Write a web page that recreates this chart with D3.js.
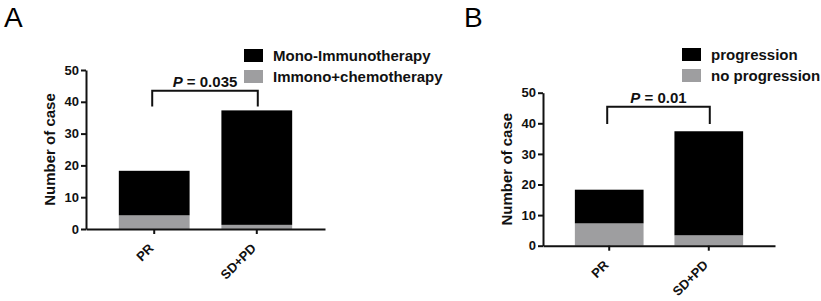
<!DOCTYPE html>
<html>
<head>
<meta charset="utf-8">
<script src="https://cdn.jsdelivr.net/npm/d3@7"></script>
<style>
  body { margin: 0; background: #fff; }
  svg { display: block; font-family: Arial, "Liberation Sans", sans-serif; }
</style>
</head>
<body>
<svg id="chart" width="821" height="301"></svg>
<script>
const categories = ["PR", "SD+PD"];
const yTicks = [0, 10, 20, 30, 40, 50];

// panel A
const treatSeries = ["Immono+chemotherapy", "Mono-Immunotherapy"];
const treatGray = [4.3, 1.3];
const treatBlack = [14.0, 36.0];

// panel B
const progSeries = ["no progression", "progression"];
const progGray = [7.3, 3.4];
const progBlack = [11.0, 34.0];

const BLACK = "#000";
const GRAY = "#9e9ea0";

const svg = d3.select("#chart");

function drawPanel(cfg) {
    const rows = categories.map((c, i) => ({ cat: c, low: cfg.gray[i], high: cfg.black[i] }));
    const stack = d3.stack().keys(["low", "high"])(rows);

    const x = d3.scaleBand()
        .domain(categories)
        .range([cfg.left, cfg.right])
        .paddingInner(0.31)
        .paddingOuter(0.32);

    const y = d3.scaleLinear()
        .domain([0, 50])
        .range([cfg.bottom, cfg.top]);

    const g = svg.append("g");

    g.append("text")
        .attr("x", cfg.labelX)
        .attr("y", 27)
        .style("font-size", "28px")
        .text(cfg.label);

    g.selectAll(".layer")
        .data(stack)
        .enter().append("g")
        .attr("fill", (d, i) => i === 0 ? GRAY : BLACK)
      .selectAll("rect")
        .data(d => d)
        .enter().append("rect")
        .attr("x", d => x(d.data.cat))
        .attr("y", d => y(d[1]))
        .attr("width", x.bandwidth())
        .attr("height", d => y(d[0]) - y(d[1]));

    const yAxis = g.append("g")
        .attr("transform", `translate(${cfg.left},0)`)
        .call(d3.axisLeft(y).tickValues(yTicks).tickSize(5).tickSizeOuter(0).tickPadding(2));

    const xAxis = g.append("g")
        .attr("transform", `translate(0,${cfg.bottom})`)
        .call(d3.axisBottom(x).tickSize(5).tickSizeOuter(0));

    [yAxis, xAxis].forEach(a => {
        a.select(".domain").attr("stroke", "#111").attr("stroke-width", 2);
        a.selectAll(".tick line").attr("stroke", "#111").attr("stroke-width", 2);
    });

    yAxis.selectAll("text")
        .style("font-size", "13px")
        .style("font-weight", "bold")
        .attr("fill", "#111");

    xAxis.selectAll("text")
        .style("font-size", "13px")
        .style("font-weight", "bold")
        .attr("fill", "#111")
        .style("text-anchor", "end")
        .attr("y", 0)
        .attr("dy", "0.35em")
        .attr("transform", "translate(-3,17) rotate(-45)");

    g.append("text")
        .attr("transform", `translate(${cfg.left - 31},${(cfg.top + cfg.bottom) / 2}) rotate(-90)`)
        .attr("text-anchor", "middle")
        .style("font-size", "15px")
        .style("font-weight", "bold")
        .attr("fill", "#111")
        .text("Number of case");

    // significance bracket
    const x1 = x(categories[0]) + x.bandwidth() / 2 - 2;
    const x2 = x(categories[1]) + x.bandwidth() / 2 + 1;
    const yTop = y(cfg.bracketTop);
    const yLeg = y(cfg.bracketLeg);
    g.append("path")
        .attr("d", `M${x1},${yLeg}V${yTop}H${x2}V${yLeg}`)
        .attr("fill", "none")
        .attr("stroke", "#111")
        .attr("stroke-width", 2);

    const pt = g.append("text")
        .attr("x", (x1 + x2) / 2)
        .attr("y", yTop - 4)
        .attr("text-anchor", "middle")
        .style("font-size", "15px")
        .style("font-weight", "bold")
        .attr("fill", "#111");
    pt.append("tspan").style("font-style", "italic").text("P");
    pt.append("tspan").text(" = " + cfg.pValue);

    // legend (black series listed first)
    const legend = g.selectAll(".legend")
        .data([cfg.series[1], cfg.series[0]])
        .enter().append("g")
        .attr("transform", (d, i) => `translate(${cfg.legendX},${cfg.legendY + i * 21})`);
    legend.append("rect")
        .attr("width", 19)
        .attr("height", 13)
        .attr("fill", (d, i) => i === 0 ? BLACK : GRAY);
    legend.append("text")
        .attr("x", 29)
        .attr("y", 12)
        .style("font-size", "15px")
        .style("font-weight", "bold")
        .attr("fill", "#111")
        .text(d => d);
}

drawPanel({
    label: "A", labelX: 4,
    gray: treatGray, black: treatBlack, series: treatSeries,
    left: 86, right: 325, top: 70, bottom: 229,
    bracketTop: 43.5, bracketLeg: 38.5, pValue: "0.035",
    legendX: 244, legendY: 49
});

drawPanel({
    label: "B", labelX: 464,
    gray: progGray, black: progBlack, series: progSeries,
    left: 543, right: 775, top: 92.7, bottom: 245.7,
    bracketTop: 45.4, bracketLeg: 39.8, pValue: "0.01",
    legendX: 682, legendY: 48
});
</script>
</body>
</html>
